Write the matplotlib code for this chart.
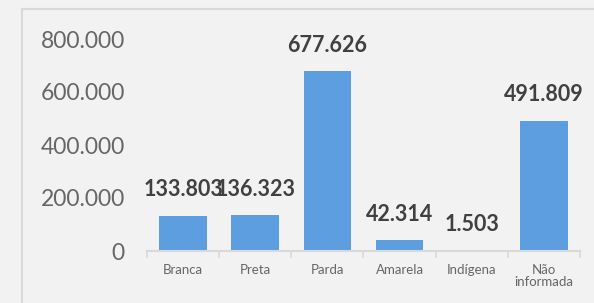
import matplotlib.pyplot as plt
from matplotlib.patches import Rectangle

# dados
categorias = ['Branca', 'Preta', 'Parda', 'Amarela', 'Indígena', 'Não\ninformada']
valores = [133803, 136323, 677626, 42314, 1503, 491809]
yticks = [0, 200000, 400000, 600000, 800000]


def fmt_br(v):
    return f'{v:,.0f}'.replace(',', '.')


plt.rcParams['font.family'] = ['Lato', 'DejaVu Sans']

fig = plt.figure(figsize=(5.94, 3.03), dpi=100, facecolor='#F2F2F2')
ax = fig.add_axes([147 / 594, 52 / 303, 433 / 594, 212 / 303])
ax.set_facecolor('#F2F2F2')

# moldura do grafico
fig.patches.append(Rectangle((22 / 594, -0.1), 1.2, (303 - 9) / 303 + 0.1,
                             transform=fig.transFigure, fill=False,
                             edgecolor='#D9D9D9', linewidth=1.5))

x = range(len(categorias))
bars = ax.bar(x, valores, width=0.66, color='#5C9EDF')

for b, v in zip(bars, valores):
    ax.annotate(fmt_br(v), (b.get_x() + b.get_width() / 2, v),
                xytext=(0, 11), textcoords='offset points',
                ha='center', va='bottom', fontsize=15.5, fontweight='bold',
                color='#404040', annotation_clip=False)

ax.set_xlim(-0.5, len(categorias) - 0.5)
ax.set_ylim(0, 800000)
ax.set_yticks(yticks)
ax.set_yticklabels([fmt_br(t) for t in yticks], fontsize=16.5, color='#666666')
ax.tick_params(axis='y', length=0, pad=16)

ax.set_xticks(list(x))
ax.set_xticklabels(categorias, fontsize=9.5, color='#666666', linespacing=1.0)
ax.set_xticks([i - 0.5 for i in range(len(categorias) + 1)], minor=True)
ax.tick_params(axis='x', which='major', length=0, pad=9)
ax.tick_params(axis='x', which='minor', length=5, width=1.2, color='#D9D9D9')

for s in ['top', 'right', 'left']:
    ax.spines[s].set_visible(False)
ax.spines['bottom'].set_color('#D9D9D9')
ax.spines['bottom'].set_linewidth(1.5)

fig.savefig('out.png', dpi=100, facecolor=fig.get_facecolor())
